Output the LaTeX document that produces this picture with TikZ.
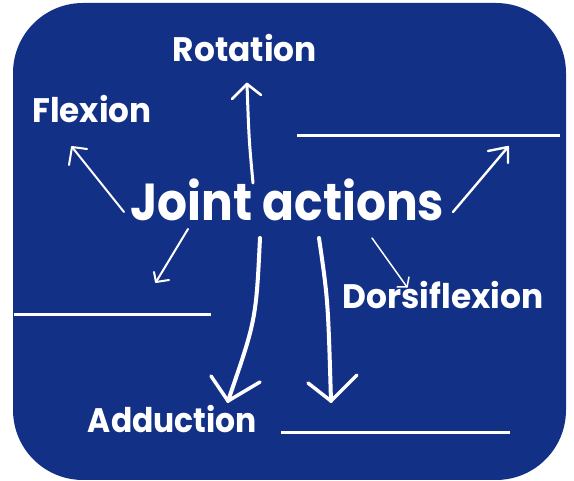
\documentclass[tikz,border=0pt]{standalone}
\usepackage{fontspec}
\setmainfont{Poppins}[BoldFont=* Bold]
\definecolor{bgblue}{RGB}{19,48,135}
\begin{document}
\begin{tikzpicture}[x=1pt,y=-1pt,
  lbl/.style={text=white,font=\bfseries\fontsize{34}{34}\selectfont,anchor=base,inner sep=0pt},
  mainlbl/.style={text=white,font=\bfseries\fontsize{52}{52}\selectfont,anchor=base,inner sep=0pt},
  hand/.style={draw=white,line cap=round,line join=round},
  blank/.style={draw=white,line width=3pt}]
\useasboundingbox (0,0) rectangle (574,481);
\fill[white] (0,0) rectangle (574,481);
\fill[bgblue,rounded corners=70pt] (13,3) rectangle (566,480);

\node[mainlbl] (main) at (287.5,221) {\scalebox{0.906}[1]{Joint actions}};
\node[lbl] (rot) at (245,62) {\scalebox{0.966}[1]{Rotation}};
\node[lbl] (flex) at (92,123) {\scalebox{0.96}[1]{Flexion}};
\node[lbl] (dorsi) at (443,309) {\scalebox{0.966}[1]{Dorsiflexion}};
\node[lbl] (add) at (172.5,433) {\scalebox{0.923}[1]{Adduction}};

% blanks
\coordinate (b1s) at (297,136); \coordinate (b1e) at (560,136);
\coordinate (b2s) at (14,315);  \coordinate (b2e) at (211,315);
\coordinate (b3s) at (281,433); \coordinate (b3e) at (510,433);
\draw[blank] (b1s) -- (b1e);
\draw[blank] (b2s) -- (b2e);
\draw[blank] (b3s) -- (b3e);

% flexion arrow
\coordinate (fS) at (124,212); \coordinate (fT) at (72,147);
\draw[hand,line width=2pt] (fS) -- (fT);
\draw[hand,line width=2pt] (87,149) -- (fT) -- (69,165);

% rotation arrow
\coordinate (rS) at (253,183); \coordinate (rT) at (247,84);
\draw[hand,line width=3pt] (rS) .. controls (249,140) .. (rT);
\draw[hand,line width=2.6pt] (232,99) -- (rT) -- (261,95);

% right-up arrow
\coordinate (uS) at (453,212); \coordinate (uT) at (508,147);
\draw[hand,line width=2.4pt] (uS) -- (uT);
\draw[hand,line width=2.4pt] (488,151) -- (uT) -- (508,163);

% down-left arrow
\coordinate (dS) at (188,229); \coordinate (dT) at (156,282);
\draw[hand,line width=2pt] (dS) -- (dT);
\draw[hand,line width=2pt] (154,272) -- (dT) -- (169,280);

% adduction arrow
\coordinate (aS) at (260,238); \coordinate (aT) at (228,401);
\draw[hand,line width=4pt] (aS) .. controls (256,320) .. (aT);
\draw[hand,line width=3.5pt] (211,376) -- (aT) -- (260,382);

% second big arrow
\coordinate (cS) at (319,238); \coordinate (cT) at (331,401);
\draw[hand,line width=4pt] (cS) .. controls (328,300) .. (cT);
\draw[hand,line width=3.5pt] (308,383) -- (cT) -- (357,375);

% dorsiflexion arrow
\coordinate (oS) at (372,238); \coordinate (oT) at (407,287);
\draw[hand,line width=1.5pt] (oS) -- (oT);
\draw[hand,line width=1.5pt] (397,287) -- (oT) -- (409,277);
\end{tikzpicture}
\end{document}
